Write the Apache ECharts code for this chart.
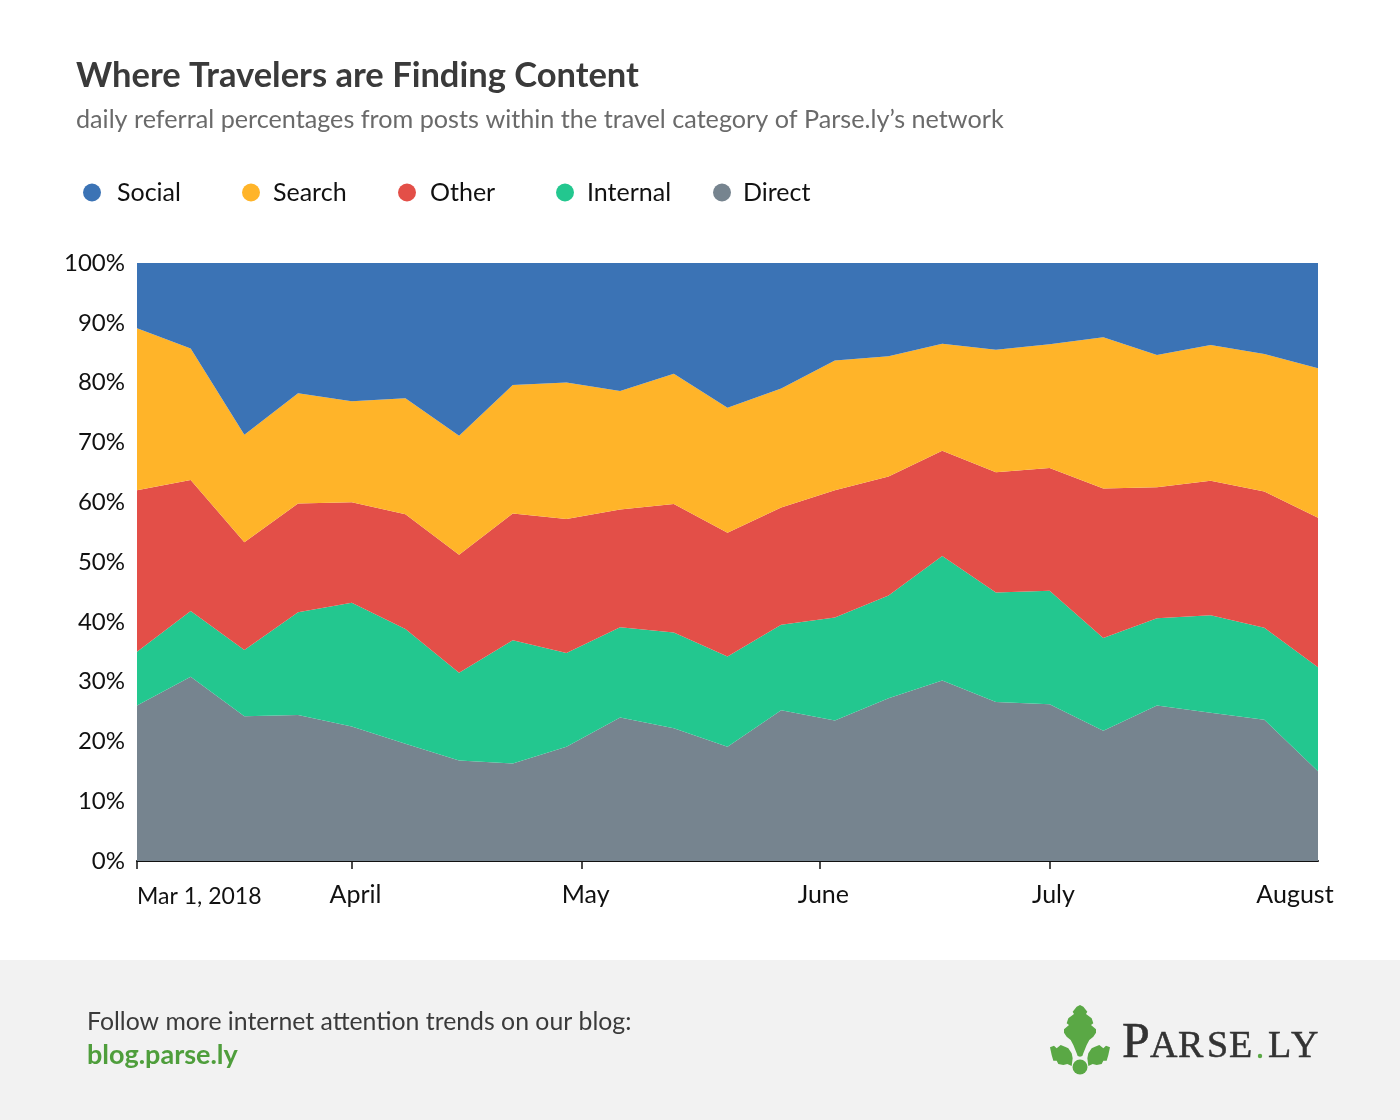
<!DOCTYPE html>
<html>
<head>
<meta charset="utf-8">
<title>Where Travelers are Finding Content</title>
<script src="https://cdn.jsdelivr.net/npm/echarts@6/dist/echarts.min.js"></script>
<style>
  html, body { margin: 0; padding: 0; background: #fff; }
  #renderChart { width: 1400px; height: 1120px; }
</style>
</head>
<body>
<div id="renderChart"></div>
<script>
// weekly samples
const weeks = ['2018-03-04','2018-03-11','2018-03-18','2018-03-25','2018-04-01','2018-04-08','2018-04-15','2018-04-22',
  '2018-04-29','2018-05-06','2018-05-13','2018-05-20','2018-05-27','2018-06-03','2018-06-10','2018-06-17',
  '2018-06-24','2018-07-01','2018-07-08','2018-07-15','2018-07-22','2018-07-29','2018-08-05'];

const direct   = [26, 30.8, 24.2, 24.4, 22.5, 19.6, 16.8, 16.3, 19.1, 24, 22.2, 19.1, 25.2, 23.5, 27.2, 30.2, 26.6, 26.2, 21.8, 26, 24.8, 23.6, 15];
const internal = [9, 11, 11.1, 17.2, 20.7, 19.2, 14.7, 20.6, 15.7, 15.1, 16, 15.1, 14.3, 17.2, 17.2, 20.8, 18.3, 19, 15.5, 14.6, 16.3, 15.4, 17.4];
const other    = [27, 21.9, 18, 18.2, 16.8, 19.2, 19.7, 21.2, 22.4, 19.7, 21.5, 20.7, 19.6, 21.3, 19.9, 17.6, 20.1, 20.5, 25, 21.9, 22.5, 22.8, 25];
const search   = [27.1, 22, 18, 18.4, 16.9, 19.4, 19.9, 21.5, 22.8, 19.8, 21.8, 20.9, 19.9, 21.7, 20.1, 17.9, 20.5, 20.7, 25.3, 22.1, 22.7, 23, 25];
const social   = [10.9, 14.3, 28.7, 21.8, 23.1, 22.6, 28.9, 20.4, 20, 21.4, 18.5, 24.2, 21, 16.3, 15.6, 13.5, 14.5, 13.6, 12.4, 15.4, 13.7, 15.2, 17.6];

const legendNames = ['Social', 'Search', 'Other', 'Internal', 'Direct'];
const legendLefts = [83, 242, 398, 556, 713];
const legendTextGaps = [11, 8, 9, 8, 7];

const tickDates = ['2018-03-04', '2018-04-01', '2018-05-01', '2018-06-01', '2018-07-01'];
const labelDates = ['2018-03-04', '2018-04-01 12:00', '2018-05-01 12:00', '2018-06-01 12:00', '2018-07-01 12:00', '2018-08-02'];
const monthNames = ['', '', '{first|Mar 1, 2018}', 'April', 'May', 'June', 'July', 'August'];

const FONT = 'Lato';
const colors = { Social: '#3b73b5', Search: '#ffb429', Other: '#e34f48', Internal: '#23c78f', Direct: '#76848f' };

const toTime = s => new Date(s.replace(' ', 'T') + (s.length > 10 ? ':00' : 'T00:00:00')).getTime();

function makeSeries(name, values) {
  return {
    name: name,
    type: 'line',
    xAxisIndex: 0,
    stack: 'share',
    symbol: 'none',
    lineStyle: { width: 0 },
    itemStyle: { color: colors[name] },
    areaStyle: { color: colors[name], opacity: 1 },
    data: values
  };
}

// logo outlines, in 3x zoom units relative to (1030, 990)
const leafHalf = [[150,45],[160,50],[172,65],[168,72],[185,85],[190,100],[183,105],[198,118],[198,128],[190,140],[178,150],[170,165],[160,190],[157,198],[150,200]];
const sideLeaf = [[60,172],[72,167],[80,175],[92,165],[105,170],[115,175],[125,190],[128,205],[125,228],[112,222],[100,225],[85,222],[80,212],[70,212],[65,195]];
const logoPt = p => [1030 + p[0] / 3, 990 + p[1] / 3];
const mirror = p => [300 - p[0], p[1]];

const logoLetters = [
  ['P', 1122, 50], ['A', 1150, 38], ['R', 1178, 38], ['S', 1207, 38], ['E', 1229, 38], ['L', 1268, 38], ['Y', 1291, 38]
];

const logoParts = [
  { type: 'polygon', shape: { points: leafHalf.concat(leafHalf.slice().reverse().map(mirror)).map(logoPt) }, style: { fill: '#5aa845' } },
  { type: 'polygon', shape: { points: sideLeaf.map(logoPt) }, style: { fill: '#5aa845' } },
  { type: 'polygon', shape: { points: sideLeaf.map(mirror).map(logoPt) }, style: { fill: '#5aa845' } },
  { type: 'circle', shape: { cx: 1080, cy: 1067, r: 7.5 }, style: { fill: '#5aa845' } },
  { type: 'circle', shape: { cx: 1260, cy: 1056, r: 2.2 }, style: { fill: '#5aa845' } }
].concat(logoLetters.map(l => ({
  type: 'text',
  style: { x: l[1], y: 1058 + l[2] * 0.22, text: l[0], fill: '#333', stroke: '#333', lineWidth: 0.5, font: l[2] + 'px "Liberation Serif"', textAlign: 'left', textVerticalAlign: 'bottom' }
})));

const myChart = echarts.init(document.getElementById('renderChart'));

myChart.setOption({
  animation: false,
  backgroundColor: '#fff',
  textStyle: { fontFamily: FONT },
  title: [
    { text: 'Where Travelers are Finding Content', left: 76, top: 58, padding: 0,
      textStyle: { fontFamily: FONT, fontSize: 34.5, fontWeight: 700, color: '#3a3a3a' } },
    { text: 'daily referral percentages from posts within the travel category of Parse.ly\u2019s network', left: 76, top: 107, padding: 0,
      textStyle: { fontFamily: FONT, fontSize: 25.2, fontWeight: 400, color: '#6a6a6a' } }
  ],
  legend: legendNames.map((name, i) => ({
    data: [name],
    left: legendLefts[i],
    top: 180,
    padding: 0,
    icon: 'circle',
    itemWidth: 18,
    itemHeight: 18,
    selectedMode: false,
    textStyle: { fontFamily: FONT, fontSize: 25, color: '#111', padding: [0, 0, 0, legendTextGaps[i]] }
  })),
  grid: { left: 137, right: 82, top: 263, bottom: 259 },
  // weekly samples sit on the category axis, months go on the value axis below it
  xAxis: [
    { type: 'category', data: weeks, boundaryGap: false, show: false },
    {
      type: 'value',
      position: 'bottom',
      min: toTime(weeks[0]),
      max: toTime(weeks[weeks.length - 1]),
      splitLine: { show: false },
      axisLine: { show: true, lineStyle: { color: '#111', width: 2 } },
      axisTick: { show: true, length: 8, lineStyle: { color: '#111', width: 1.5 }, customValues: tickDates.map(toTime) },
      axisLabel: {
        show: true,
        customValues: labelDates.map(toTime),
        margin: 21,
        fontFamily: FONT,
        fontSize: 25,
        color: '#111',
        alignMinLabel: 'left',
        hideOverlap: false,
        rich: { first: { fontFamily: FONT, fontSize: 23, color: '#111', padding: [3, 0, 0, 0] } },
        formatter: v => monthNames[new Date(v).getMonth()]
      }
    }
  ],
  yAxis: {
    type: 'value',
    min: 0,
    max: 100,
    interval: 10,
    splitLine: { show: false },
    axisLine: { show: false },
    axisTick: { show: false },
    axisLabel: { margin: 12, fontFamily: FONT, fontSize: 24, color: '#111', formatter: '{value}%' }
  },
  series: [
    makeSeries('Direct', direct),
    makeSeries('Internal', internal),
    makeSeries('Other', other),
    makeSeries('Search', search),
    makeSeries('Social', social)
  ],
  graphic: [
    { type: 'rect', z: -1, shape: { x: 0, y: 960, width: 1400, height: 160 }, style: { fill: '#f2f2f2' } },
    { type: 'text', style: { x: 87, y: 1022, text: 'Follow more internet attention trends on our blog:', fill: '#3a3a3a', font: '24.8px ' + FONT, textVerticalAlign: 'middle' } },
    { type: 'text', style: { x: 87, y: 1055, text: 'blog.parse.ly', fill: '#4f9e3c', font: 'bold 27px ' + FONT, textVerticalAlign: 'middle' } }
  ].concat(logoParts)
});
</script>
</body>
</html>
